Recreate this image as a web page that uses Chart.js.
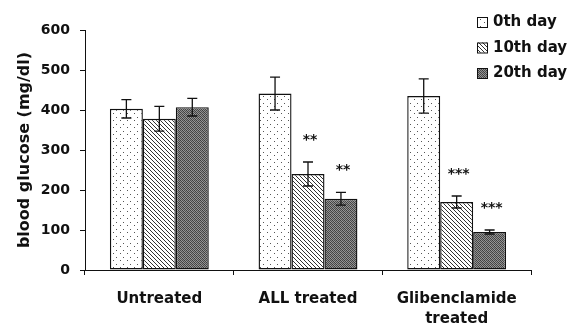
<!DOCTYPE html>
<html>
<head>
<meta charset="utf-8">
<script src="https://cdn.jsdelivr.net/npm/chart.js@4.4.1/dist/chart.umd.min.js"></script>
<style>
  html, body { margin: 0; padding: 0; background: #fff; }
  canvas { display: block; }
</style>
</head>
<body>
<canvas id="chart" width="569" height="326"></canvas>
<script>
// data
const groups = ['Untreated', 'ALL treated', ['Glibenclamide', 'treated']];
const seriesNames = ['0th day', '10th day', '20th day'];
const day0 = [403, 441, 435];
const day10 = [378, 240, 170];
const day20 = [407, 178, 95];
const err0 = [23, 41, 43];
const err10 = [31, 30, 15];
const err20 = [22, 16, 5];
const stars0 = ['', '', ''];
const stars10 = ['', '**', '***'];
const stars20 = ['', '**', '***'];
const yMin = 0, yMax = 600, yStep = 100;

const FONT = "'DejaVu Sans', 'Liberation Sans', Arial, sans-serif";
const INK = '#111';

// fill patterns like the old print hatching
function makePattern(size, draw) {
    const c = document.createElement('canvas');
    c.width = size; c.height = size;
    const g = c.getContext('2d');
    draw(g, size);
    return document.getElementById('chart').getContext('2d').createPattern(c, 'repeat');
}

const dotFill = makePattern(7, (g) => {
    g.fillStyle = '#fff';
    g.fillRect(0, 0, 7, 7);
    g.fillStyle = '#555';
    g.fillRect(1, 1, 1, 1);
    g.fillRect(4, 5, 1, 1);
});

const hatchFill = makePattern(4, (g) => {
    g.fillStyle = '#fff';
    g.fillRect(0, 0, 4, 4);
    g.fillStyle = '#333';
    for (let i = 0; i < 4; i++) g.fillRect(i, i, 1, 1);
});

const darkFill = makePattern(4, (g) => {
    const cols = [['#3e3e3e', '#959595', '#4c4c4c', '#888888'],
                  ['#8e8e8e', '#444444', '#9c9c9c', '#4a4a4a'],
                  ['#4a4a4a', '#909090', '#3c3c3c', '#999999'],
                  ['#969696', '#505050', '#8a8a8a', '#424242']];
    for (let y = 0; y < 4; y++)
        for (let x = 0; x < 4; x++) {
            g.fillStyle = cols[y][x];
            g.fillRect(x, y, 1, 1);
        }
});

const fills = [dotFill, hatchFill, darkFill];
const values = [day0, day10, day20];
const errors = [err0, err10, err20];
const stars = [stars0, stars10, stars20];

// error bars + significance stars
const errorBarPlugin = {
    id: 'errorBars',
    afterDatasetsDraw(chart) {
        const ctx = chart.ctx;
        const y = chart.scales.y;
        ctx.save();
        ctx.strokeStyle = INK;
        ctx.lineWidth = 1.3;
        chart.data.datasets.forEach((ds, di) => {
            const meta = chart.getDatasetMeta(di);
            meta.data.forEach((bar, i) => {
                const v = ds.data[i];
                const e = errors[di][i];
                const yTop = y.getPixelForValue(v + e);
                const yBot = y.getPixelForValue(v - e);
                ctx.beginPath();
                ctx.moveTo(bar.x, yTop); ctx.lineTo(bar.x, yBot);
                ctx.moveTo(bar.x - 5, yTop); ctx.lineTo(bar.x + 5, yTop);
                ctx.moveTo(bar.x - 5, yBot); ctx.lineTo(bar.x + 5, yBot);
                ctx.stroke();
                const s = stars[di][i];
                if (s) {
                    ctx.fillStyle = INK;
                    ctx.font = `bold 14px ${FONT}`;
                    ctx.textAlign = 'center';
                    ctx.textBaseline = 'middle';
                    ctx.fillText(s, bar.x + 2, yTop - 22);
                }
            });
        });
        ctx.restore();
    }
};

// legend top right, boxes filled with the bar patterns
const legendPlugin = {
    id: 'patternLegend',
    afterDraw(chart) {
        const ctx = chart.ctx;
        ctx.save();
        ctx.font = `bold 15px ${FONT}`;
        ctx.textBaseline = 'middle';
        ctx.textAlign = 'left';
        chart.data.datasets.forEach((ds, i) => {
            const bx = 477, by = 17 + i * 25.5;
            ctx.fillStyle = fills[i];
            ctx.fillRect(bx, by, 10, 10);
            ctx.strokeStyle = INK;
            ctx.lineWidth = 1;
            ctx.strokeRect(bx + 0.5, by + 0.5, 10, 10);
            ctx.fillStyle = INK;
            ctx.fillText(ds.label, 493, by + 5.5);
        });
        ctx.restore();
    }
};

new Chart(document.getElementById('chart'), {
    type: 'bar',
    data: {
        labels: groups,
        datasets: seriesNames.map((name, i) => ({
            label: name,
            data: values[i],
            backgroundColor: fills[i],
            borderColor: INK,
            borderWidth: 1.4,
            borderSkipped: false,
            categoryPercentage: 0.665,
            barPercentage: 1.0
        }))
    },
    options: {
        responsive: false,
        animation: false,
        layout: { padding: { top: 30, right: 38, left: 0, bottom: 0 } },
        plugins: {
            legend: { display: false },
            tooltip: { enabled: false }
        },
        scales: {
            x: {
                grid: { offset: true, drawOnChartArea: false, drawTicks: true, tickLength: 5, color: INK },
                border: { color: INK, width: 1 },
                ticks: { color: INK, padding: 14, font: { family: FONT, size: 15, weight: 'bold', lineHeight: 1.35 } },
                afterFit(scale) { scale.height = 56; }
            },
            y: {
                min: yMin,
                max: yMax,
                grid: { drawOnChartArea: false, drawTicks: true, tickLength: 5, color: INK },
                border: { color: INK, width: 1 },
                ticks: { stepSize: yStep, color: INK, padding: 10, font: { family: FONT, size: 14, weight: 'bold' } },
                title: {
                    display: true,
                    text: 'blood glucose (mg/dl)',
                    color: INK,
                    padding: { top: 15, bottom: 0 },
                    font: { family: FONT, size: 16, weight: 'bold' }
                },
                afterFit(scale) { scale.width = 85; }
            }
        }
    },
    plugins: [errorBarPlugin, legendPlugin]
});
</script>
</body>
</html>
